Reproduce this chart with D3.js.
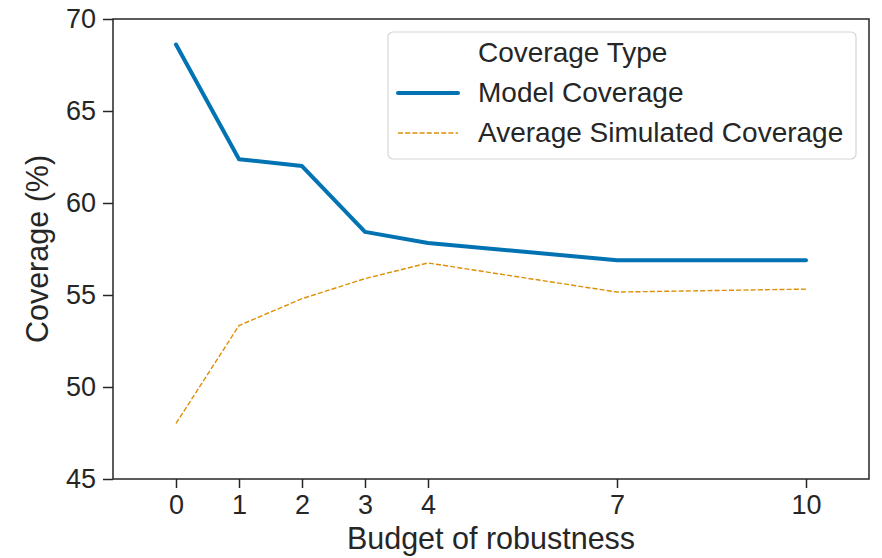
<!DOCTYPE html>
<html>
<head>
<meta charset="utf-8">
<script src="https://cdn.jsdelivr.net/npm/d3@7/dist/d3.min.js"></script>
<style>
  html, body { margin: 0; padding: 0; background: #ffffff; }
  svg { display: block; font-family: "Liberation Sans", Arial, sans-serif; }
</style>
</head>
<body>
<svg id="chart" width="882" height="558"></svg>
<script>
const budgets = [0, 1, 2, 3, 4, 7, 10];
const modelCoverage = [68.61, 62.38, 62.01, 58.43, 57.83, 56.89, 56.89];
const simulatedCoverage = [48.02, 53.34, 54.80, 55.89, 56.74, 55.16, 55.32];
const yTicks = [45, 50, 55, 60, 65, 70];
const seriesNames = ["Model Coverage", "Average Simulated Coverage"];
const legendTitle = "Coverage Type";
const xLabel = "Budget of robustness";
const yLabel = "Coverage (%)";

const W = 882, H = 558;
const m = {left: 113, right: 13, top: 19, bottom: 79};
const ink = "#262626";
const blue = "#0173b2", orange = "#de8f05";

const svg = d3.select("#chart");
const x = d3.scaleLinear().domain([-1, 11]).range([m.left, W - m.right]);
const y = d3.scaleLinear().domain([45, 70]).range([H - m.bottom, m.top]);

// lines
const line = d3.line().x((d, i) => x(budgets[i])).y(d => y(d));
svg.append("path").datum(modelCoverage)
  .attr("d", line).attr("fill", "none").attr("stroke", blue)
  .attr("stroke-width", 4).attr("stroke-linejoin", "round").attr("stroke-linecap", "round");
svg.append("path").datum(simulatedCoverage)
  .attr("d", line).attr("fill", "none").attr("stroke", orange)
  .attr("stroke-width", 1.4).attr("stroke-dasharray", "5,2.2");

// axes
const xAxis = svg.append("g").attr("transform", `translate(0,${H - m.bottom})`)
  .call(d3.axisBottom(x).tickValues(budgets).tickSize(9).tickPadding(7).tickSizeOuter(0));
const yAxis = svg.append("g").attr("transform", `translate(${m.left},0)`)
  .call(d3.axisLeft(y).tickValues(yTicks).tickSize(10).tickPadding(7).tickSizeOuter(0));
[xAxis, yAxis].forEach(g => {
  g.selectAll("path.domain").remove();
  g.selectAll(".tick line").attr("stroke", ink).attr("stroke-width", 1.5);
  g.selectAll(".tick text").attr("fill", ink).style("font-size", "27px")
    .style("font-family", "'Liberation Sans', Arial, sans-serif");
});

// frame (spines)
svg.append("rect")
  .attr("x", m.left).attr("y", m.top)
  .attr("width", W - m.right - m.left).attr("height", H - m.bottom - m.top)
  .attr("fill", "none").attr("stroke", ink).attr("stroke-width", 1.5);

// axis labels
svg.append("text").attr("x", (m.left + W - m.right) / 2).attr("y", 549)
  .attr("text-anchor", "middle").attr("fill", ink).style("font-size", "30.5px").text(xLabel);
svg.append("text").attr("transform", `translate(48,${(m.top + H - m.bottom) / 2}) rotate(-90)`)
  .attr("text-anchor", "middle").attr("fill", ink).style("font-size", "30.5px").text(yLabel);

// legend
const lg = svg.append("g");
lg.append("rect").attr("x", 388).attr("y", 32).attr("width", 468).attr("height", 127)
  .attr("rx", 5).attr("fill", "#ffffff").attr("fill-opacity", 0.85)
  .attr("stroke", "#d6d6d6").attr("stroke-width", 1.2);
lg.append("text").attr("x", 478).attr("y", 62).attr("fill", ink).style("font-size", "28px").text(legendTitle);
const styles = [
  {color: blue, width: 4, dash: null},
  {color: orange, width: 1.4, dash: "5,2.2"}
];
seriesNames.forEach((name, i) => {
  const yy = 102 + i * 40;
  lg.append("line").attr("x1", 398).attr("x2", 458).attr("y1", yy - 9).attr("y2", yy - 9)
    .attr("stroke", styles[i].color).attr("stroke-width", styles[i].width)
    .attr("stroke-linecap", styles[i].dash ? "butt" : "round")
    .attr("stroke-dasharray", styles[i].dash);
  lg.append("text").attr("x", 478).attr("y", yy).attr("fill", ink).style("font-size", "28px").text(name);
});
</script>
</body>
</html>
